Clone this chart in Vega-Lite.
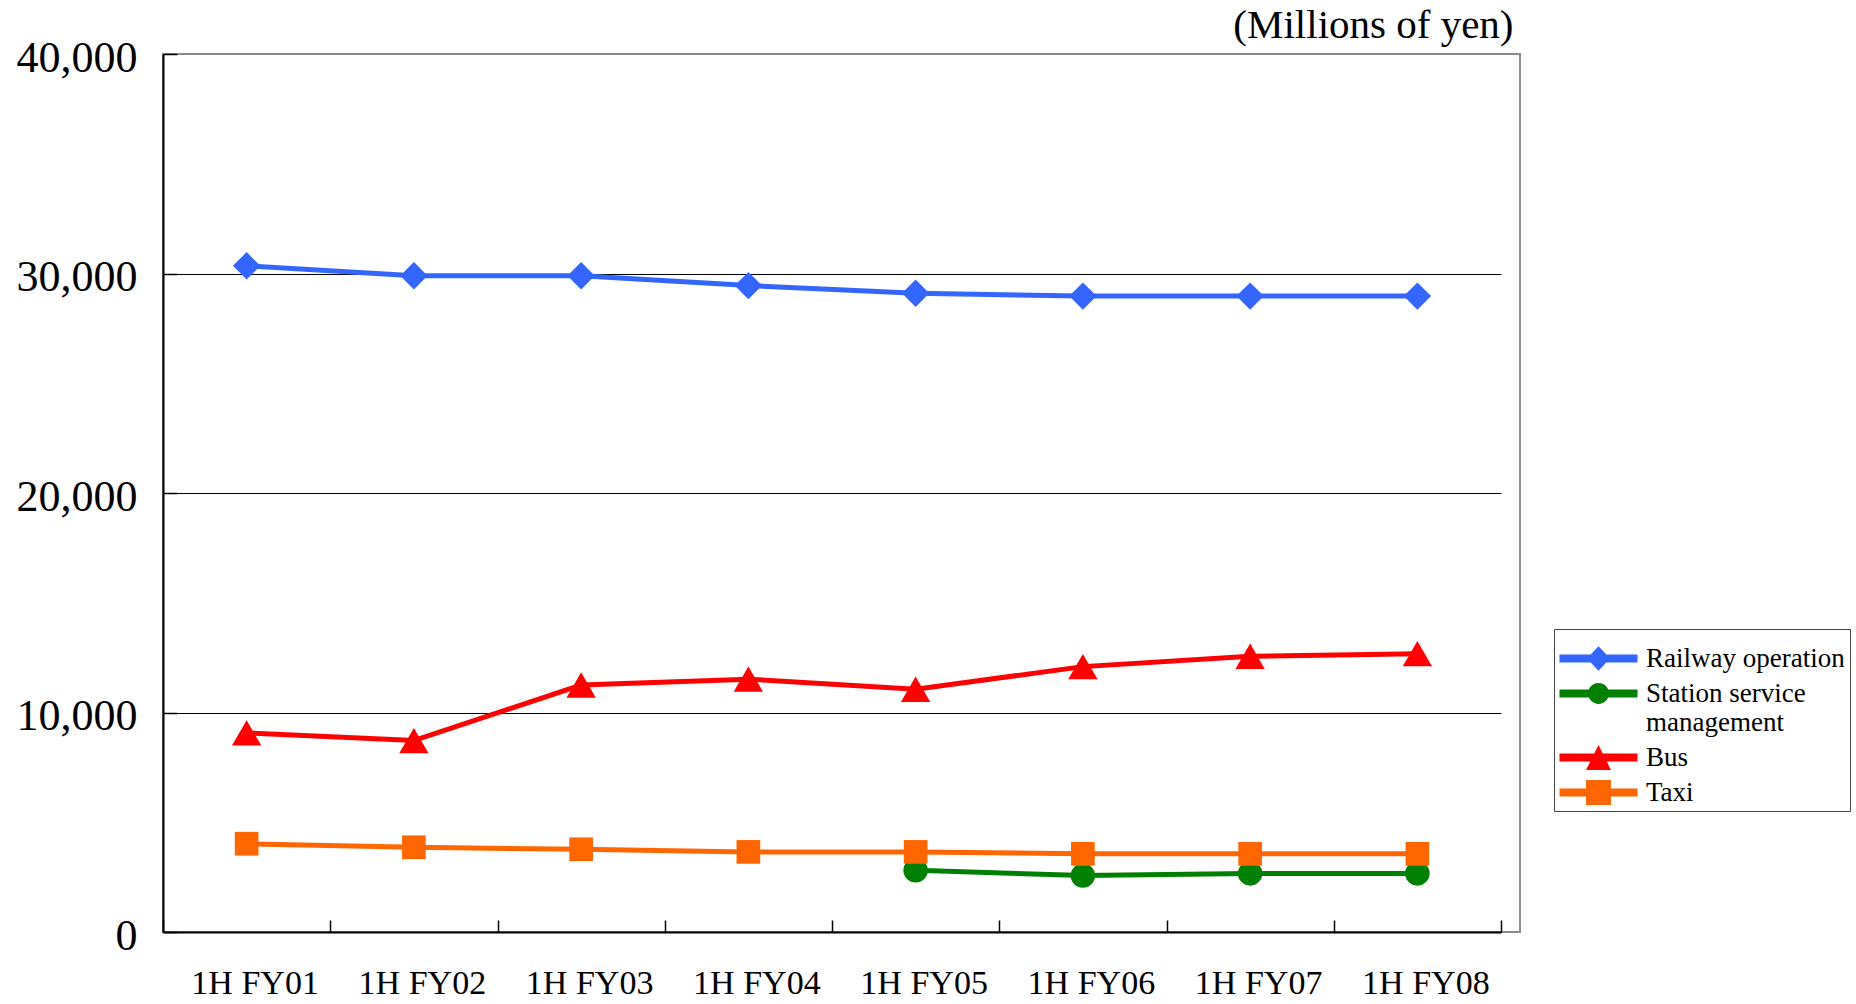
{
  "$schema": "https://vega.github.io/schema/vega-lite/v6.json",
  "width": 1357,
  "height": 878,
  "autosize": {"type": "none"},
  "padding": {"left": 163, "top": 54, "right": 336, "bottom": 72},
  "background": "white",
  "config": {
    "view": {"stroke": "#8c8c8c", "strokeWidth": 2},
    "font": "Liberation Serif"
  },
  "data": {
    "values": [
      {"period": "1H FY01", "series": "Railway operation", "value": 30350},
      {"period": "1H FY02", "series": "Railway operation", "value": 29900},
      {"period": "1H FY03", "series": "Railway operation", "value": 29900},
      {"period": "1H FY04", "series": "Railway operation", "value": 29450},
      {"period": "1H FY05", "series": "Railway operation", "value": 29100},
      {"period": "1H FY06", "series": "Railway operation", "value": 28970},
      {"period": "1H FY07", "series": "Railway operation", "value": 28970},
      {"period": "1H FY08", "series": "Railway operation", "value": 28970},
      {"period": "1H FY05", "series": "Station service management", "value": 2810},
      {"period": "1H FY06", "series": "Station service management", "value": 2570},
      {"period": "1H FY07", "series": "Station service management", "value": 2670},
      {"period": "1H FY08", "series": "Station service management", "value": 2670},
      {"period": "1H FY01", "series": "Bus", "value": 9070},
      {"period": "1H FY02", "series": "Bus", "value": 8720},
      {"period": "1H FY03", "series": "Bus", "value": 11250},
      {"period": "1H FY04", "series": "Bus", "value": 11520},
      {"period": "1H FY05", "series": "Bus", "value": 11060},
      {"period": "1H FY06", "series": "Bus", "value": 12090},
      {"period": "1H FY07", "series": "Bus", "value": 12560},
      {"period": "1H FY08", "series": "Bus", "value": 12680},
      {"period": "1H FY01", "series": "Taxi", "value": 4020},
      {"period": "1H FY02", "series": "Taxi", "value": 3860},
      {"period": "1H FY03", "series": "Taxi", "value": 3770},
      {"period": "1H FY04", "series": "Taxi", "value": 3650},
      {"period": "1H FY05", "series": "Taxi", "value": 3650},
      {"period": "1H FY06", "series": "Taxi", "value": 3560},
      {"period": "1H FY07", "series": "Taxi", "value": 3560},
      {"period": "1H FY08", "series": "Taxi", "value": 3560}
    ]
  },
  "encoding": {
    "x": {
      "field": "period",
      "type": "ordinal",
      "sort": ["1H FY01", "1H FY02", "1H FY03", "1H FY04", "1H FY05", "1H FY06", "1H FY07", "1H FY08"],
      "scale": {"type": "band", "range": [0, 1338], "paddingInner": 0, "paddingOuter": 0},
      "axis": {
        "title": null,
        "labelAngle": 0,
        "labelFont": "Liberation Serif",
        "labelFontSize": 34,
        "labelColor": "black",
        "labelPadding": 46,
        "labelOffset": 8,
        "tickBand": "extent",
        "tickSize": -12,
        "tickColor": "black",
        "tickWidth": 1.5,
        "domainColor": "black",
        "domainWidth": 2,
        "grid": false
      }
    },
    "y": {
      "field": "value",
      "type": "quantitative",
      "scale": {"domain": [0, 40000], "nice": false},
      "axis": {
        "title": "(Millions of yen)",
        "titleAngle": 0,
        "titleX": 1350,
        "titleY": -17,
        "titleAlign": "right",
        "titleBaseline": "alphabetic",
        "titleFont": "Liberation Serif",
        "titleFontSize": 41,
        "titleFontWeight": "normal",
        "titleColor": "black",
        "values": [0, 10000, 20000, 30000, 40000],
        "format": ",d",
        "labelFont": "Liberation Serif",
        "labelFontSize": 44,
        "labelColor": "black",
        "labelPadding": 40,
        "labelOffset": 4,
        "tickSize": -14,
        "tickColor": "black",
        "tickWidth": 1.5,
        "gridColor": "black",
        "gridWidth": 1,
        "gridOpacity": {"condition": {"test": "datum.value === 40000 || datum.value === 0", "value": 0}, "value": 1},
        "domainColor": "black",
        "domainWidth": 2
      }
    },
    "color": {
      "field": "series", "type": "nominal",
      "scale": {"domain": ["Railway operation", "Station service management", "Bus", "Taxi"], "range": ["#3366FF", "#008000", "#FF0000", "#FF6600"]}
    }
  },
  "layer": [
    {
      "transform": [{"filter": "false"}],
      "mark": {"type": "point", "filled": true, "opacity": 1},
      "encoding": {
        "color": {
          "field": "series", "type": "nominal",
          "scale": {"domain": ["Railway operation", "Station service management", "Bus", "Taxi"], "range": ["#3366FF", "#008000", "#FF0000", "#FF6600"]},
          "legend": {
            "title": "\u00a0",
            "titleFontSize": 8,
            "titlePadding": 3,
            "orient": "none",
            "legendX": 1391,
            "legendY": 575,
            "padding": 5,
            "strokeColor": "#444444",
            "fillColor": "white",
            "symbolSize": 676,
            "symbolOffset": 26,
            "symbolOpacity": 1,
            "symbolStrokeWidth": 0,
            "labelFont": "Liberation Serif",
            "labelFontSize": 27,
            "labelColor": "black",
            "labelOffset": 34,
            "labelLimit": 400,
            "rowPadding": 7,
            "labelExpr": "datum.label === 'Station service management' ? ['Station service', '\\u00a0management'] : datum.label"
          }
        },
        "shape": {
          "field": "series", "type": "nominal",
          "scale": {
            "domain": ["Railway operation", "Station service management", "Bus", "Taxi"],
            "range": [
              "M-3,-0.31H3V0.31H-3Z M-0.9,0L0,-0.95L0.9,0L0,0.95Z",
              "M-3,-0.31H3V0.31H-3Z M-0.8,0A0.8,0.8,0,1,1,0.8,0A0.8,0.8,0,1,1,-0.8,0Z",
              "M-3,-0.31H3V0.31H-3Z M0,-0.96L0.96,0.96L-0.96,0.96Z",
              "M-3,-0.31H3V0.31H-3Z M-0.96,-0.96H0.96V0.96H-0.96Z"
            ]
          },
          "legend": {
            "title": "\u00a0",
            "titleFontSize": 8,
            "titlePadding": 3,
            "orient": "none",
            "legendX": 1391,
            "legendY": 575,
            "padding": 5,
            "strokeColor": "#444444",
            "fillColor": "white",
            "symbolSize": 676,
            "symbolOffset": 26,
            "symbolOpacity": 1,
            "symbolStrokeWidth": 0,
            "labelFont": "Liberation Serif",
            "labelFontSize": 27,
            "labelColor": "black",
            "labelOffset": 34,
            "labelLimit": 400,
            "rowPadding": 7,
            "labelExpr": "datum.label === 'Station service management' ? ['Station service', '\\u00a0management'] : datum.label"
          }
        }
      }
    },
    {
      "mark": {"type": "line", "strokeWidth": 5}
    },
    {
      "transform": [{"filter": "datum.series === 'Railway operation'"}],
      "mark": {"type": "point", "filled": true, "opacity": 1, "shape": "diamond", "size": 750}
    },
    {
      "transform": [{"filter": "datum.series === 'Station service management'"}],
      "mark": {"type": "point", "filled": true, "opacity": 1, "shape": "circle", "size": 600}
    },
    {
      "transform": [{"filter": "datum.series === 'Bus'"}],
      "mark": {"type": "point", "filled": true, "opacity": 1, "shape": "triangle-up", "size": 860}
    },
    {
      "transform": [{"filter": "datum.series === 'Taxi'"}],
      "mark": {"type": "point", "filled": true, "opacity": 1, "shape": "square", "size": 560}
    }
  ]
}
